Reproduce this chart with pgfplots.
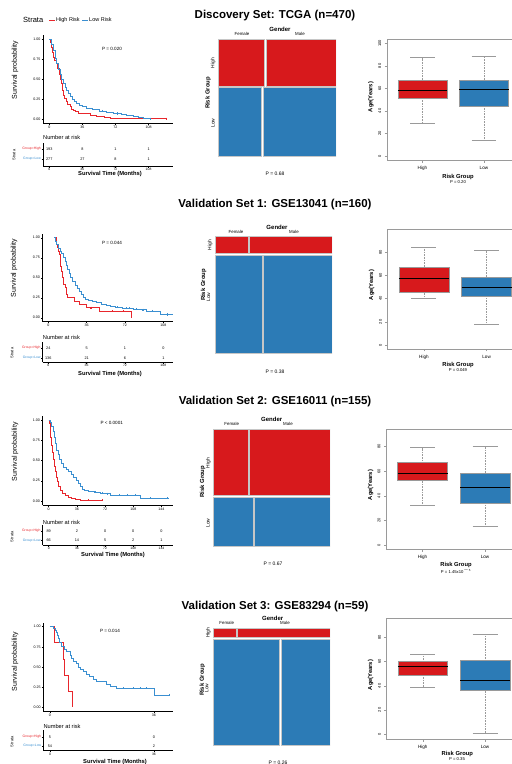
\documentclass[border=0pt]{standalone}
\usepackage{pgfplots}
\pgfplotsset{compat=1.18}
\usepackage{fontspec}
\setmainfont{Liberation Sans}
\definecolor{kmred}{HTML}{E8262C}
\definecolor{kmblue}{HTML}{3A8FD1}
\definecolor{mred}{HTML}{D7191C}
\definecolor{mblue}{HTML}{2C7BB6}
\definecolor{frm}{HTML}{9A9A9A}
\newcommand{\fs}[1]{\fontsize{#1}{#1}\selectfont}
\pgfplotsset{
  every axis/.append style={/pgf/number format/assume math mode=true},
  km/.style={scale only axis, axis lines*=left, axis line style={-,black,line width=0.45pt},
    tick align=outside, major tick length=1.5pt, tick style={black,line width=0.4pt},
    ticklabel style={font=\fs{3.6}, inner sep=1pt}, ymin=-0.05, ymax=1.05,
    ytick={0,0.25,0.5,0.75,1}, yticklabels={0.00,0.25,0.50,0.75,1.00}},
  rt/.style={scale only axis, axis lines*=left, axis line style={-,black,line width=0.45pt},
    tick align=outside, major tick length=1.5pt, tick style={black,line width=0.4pt},
    ticklabel style={font=\fs{3.4}, inner sep=0.5pt}, ytick={1,2},
    yticklabels={\textcolor{kmblue}{Group=Low},\textcolor{kmred}{Group=High}}},
  kml/.style={const plot, line width=0.7pt},
  cen/.style={only marks, mark=+, mark size=1.1pt, line width=0.4pt},
  rtn/.style={draw=none, mark=none, nodes near coords, point meta=explicit symbolic,
    nodes near coords style={font=\fs{3.8}, anchor=center, inner sep=0pt, text=black}},
  mos/.style={scale only axis, hide axis, xmin=0,xmax=1,ymin=0,ymax=1},
  cR/.style={fill=mred, draw=gray!45, line width=0.4pt},
  cB/.style={fill=mblue, draw=gray!45, line width=0.4pt},
  bx/.style={scale only axis, xmin=0.42, xmax=2.58, xtick={1,2}, xticklabels={High,Low},
    axis line style={frm,line width=0.5pt}, tick align=outside, xtick pos=bottom, ytick pos=left,
    major tick length=2.2pt, tick style={frm, line width=0.4pt},
    yticklabel style={rotate=90, anchor=south, font=\fs{4}},
    xticklabel style={font=\fs{4.6}}},
}
\newcommand{\bxH}[6]{%
  \addplot[frm, dash pattern=on 0.8pt off 0.8pt, line width=0.4pt] coordinates {(1,#5)(1,#6)};
  \addplot[frm, dash pattern=on 0.8pt off 0.8pt, line width=0.4pt] coordinates {(1,#2)(1,#3)};
  \addplot[frm, line width=0.5pt] coordinates {(0.8,#6)(1.2,#6)};
  \addplot[frm, line width=0.5pt] coordinates {(0.8,#2)(1.2,#2)};
  \addplot[fill=#1, draw=frm, line width=0.5pt] coordinates {(0.6,#3)(1.4,#3)(1.4,#5)(0.6,#5)} -- cycle;
  \addplot[black, line width=1pt] coordinates {(0.6,#4)(1.4,#4)};
}
\newcommand{\bxL}[6]{%
  \addplot[frm, dash pattern=on 0.8pt off 0.8pt, line width=0.4pt] coordinates {(2,#5)(2,#6)};
  \addplot[frm, dash pattern=on 0.8pt off 0.8pt, line width=0.4pt] coordinates {(2,#2)(2,#3)};
  \addplot[frm, line width=0.5pt] coordinates {(1.8,#6)(2.2,#6)};
  \addplot[frm, line width=0.5pt] coordinates {(1.8,#2)(2.2,#2)};
  \addplot[fill=#1, draw=frm, line width=0.5pt] coordinates {(1.6,#3)(2.4,#3)(2.4,#5)(1.6,#5)} -- cycle;
  \addplot[black, line width=1pt] coordinates {(1.6,#4)(2.4,#4)};
}
\begin{document}
\begin{tikzpicture}
\path[use as bounding box] (0pt,0pt) rectangle (512pt,-764pt);

% ================= ROW 1 =================
\begin{axis}[km, at={(43pt,-123pt)}, anchor=south west, width=130pt, height=87.7pt,
  xmin=-6.86, xmax=134.6, xtick={0,36,72,108}]
\addplot[kml, kmred] coordinates {(0,1)(1.5,0.96)(2.6,0.90)(3.5,0.84)(4.4,0.77)(6,0.74)(7.5,0.70)(9,0.64)(10.5,0.56)(11.6,0.50)(13,0.45)(14.2,0.36)(15.2,0.30)(16.5,0.26)(18.2,0.22)(20,0.19)(22.5,0.155)(24.5,0.125)(26.1,0.11)(28.5,0.09)(31.6,0.065)(45,0.05)(51.6,0.03)(60,0.02)(66,0.01)(90,0.005)(127,0.005)};
\addplot[kml, kmblue] coordinates {(0,1)(2,0.94)(4,0.86)(6.2,0.76)(8,0.70)(10,0.62)(11.6,0.56)(13.5,0.50)(15,0.45)(17,0.40)(19,0.36)(20.5,0.32)(22.5,0.28)(25,0.25)(27.5,0.22)(29.8,0.20)(33,0.17)(36,0.155)(40.7,0.135)(47,0.12)(55,0.10)(62,0.085)(69.7,0.07)(78,0.055)(84,0.045)(91.4,0.03)(97,0.02)(102,0.005)(109.6,0.005)};
\addplot[cen, kmred] coordinates {(127,0.005)};
\addplot[cen, kmblue] coordinates {(58,0.10)(74,0.07)(109.6,0.005)};
\end{axis}
\begin{axis}[rt, at={(43pt,-166pt)}, anchor=south west, width=130pt, height=23pt,
  xmin=-6.86, xmax=134.6, ymin=0.3, ymax=2.6, xtick={0,36,72,108}]
\addplot[rtn] coordinates {(0,2)[193] (36,2)[8] (72,2)[1] (108,2)[1] (0,1)[277] (36,1)[27] (72,1)[8] (108,1)[1]};
\end{axis}
\begin{axis}[mos, at={(218pt,-156pt)}, anchor=south west, width=118pt, height=117pt]
\addplot[cR] coordinates {(0,0.596)(0.394,0.596)(0.394,1)(0,1)} -- cycle;
\addplot[cR] coordinates {(0.406,0.596)(1,0.596)(1,1)(0.406,1)} -- cycle;
\addplot[cB] coordinates {(0,0)(0.367,0)(0.367,0.584)(0,0.584)} -- cycle;
\addplot[cB] coordinates {(0.379,0)(1,0)(1,0.584)(0.379,0.584)} -- cycle;
\end{axis}
\begin{axis}[bx, at={(386.8pt,-160.5pt)}, anchor=south west, width=132.8pt, height=121.7pt,
  ymin=-4, ymax=104, ytick={0,20,40,60,80,100}]
\bxH{mred}{29.5}{51.2}{57.7}{67.2}{87.2}
\bxL{mblue}{13.6}{44.4}{58.6}{67.2}{88.1}
\end{axis}

% ================= ROW 2 =================
\begin{axis}[km, at={(42.7pt,-321.7pt)}, anchor=south west, width=130.3pt, height=88pt,
  xmin=-5.26, xmax=117.1, xtick={0,36,72,108}]
\addplot[kml, kmred] coordinates {(7.2,1)(8,0.92)(8.8,0.875)(9.8,0.83)(10.4,0.79)(11,0.71)(11.6,0.64)(12.5,0.58)(13.2,0.50)(14.5,0.42)(15.7,0.375)(17,0.29)(18.2,0.25)(24.1,0.21)(29.1,0.165)(36,0.125)(47.9,0.083)(78.3,0)};
\addplot[kml, kmblue] coordinates {(5.7,1)(7,0.96)(8,0.92)(9.4,0.87)(11,0.83)(12.6,0.80)(14,0.75)(15.7,0.70)(17,0.65)(18.2,0.60)(19.5,0.55)(21,0.50)(23,0.45)(25,0.41)(27,0.37)(28.8,0.33)(31,0.29)(32.9,0.26)(35,0.235)(37.6,0.22)(41,0.20)(45.4,0.19)(50,0.17)(54.8,0.16)(58,0.145)(62.6,0.13)(70,0.12)(79.8,0.11)(86,0.10)(92.4,0.085)(104.9,0.04)(117,0.04)};
\addplot[cen, kmred] coordinates {(40,0.125)(60,0.083)(70,0.083)};
\addplot[cen, kmblue] coordinates {(65,0.13)(73,0.12)(76,0.12)(83,0.11)(89,0.10)(98,0.085)(112,0.04)};
\end{axis}
\begin{axis}[rt, at={(42.7pt,-362pt)}, anchor=south west, width=130.3pt, height=20.3pt,
  xmin=-5.26, xmax=117.1, ymin=0.6, ymax=2.63, xtick={0,36,72,108}]
\addplot[rtn] coordinates {(0,2)[24] (36,2)[5] (72,2)[1] (108,2)[0] (0,1)[136] (36,1)[21] (72,1)[6] (108,1)[1]};
\end{axis}
\begin{axis}[mos, at={(215pt,-353pt)}, anchor=south west, width=117pt, height=117pt]
\addplot[cR] coordinates {(0,0.852)(0.284,0.852)(0.284,1)(0,1)} -- cycle;
\addplot[cR] coordinates {(0.296,0.852)(1,0.852)(1,1)(0.296,1)} -- cycle;
\addplot[cB] coordinates {(0,0)(0.404,0)(0.404,0.840)(0,0.840)} -- cycle;
\addplot[cB] coordinates {(0.416,0)(1,0)(1,0.840)(0.416,0.840)} -- cycle;
\end{axis}
\begin{axis}[bx, at={(387.6pt,-349.1pt)}, anchor=south west, width=135.4pt, height=120.1pt,
  ymin=-3.5, ymax=100, ytick={0,20,40,60,80}]
\bxH{mred}{40.2}{45.9}{57.5}{67}{84.7}
\bxL{mblue}{17.8}{42}{49.4}{58.4}{81.9}
\end{axis}

% ================= ROW 3 =================
\begin{axis}[km, at={(42.7pt,-505pt)}, anchor=south west, width=130.3pt, height=89.1pt,
  xmin=-7.66, xmax=158.7, xtick={0,36,72,108,144}]
\addplot[kml, kmred] coordinates {(0,1)(0.8,0.96)(1.7,0.88)(2.7,0.78)(3.8,0.69)(4.8,0.60)(5.9,0.51)(7,0.43)(8.1,0.36)(9.5,0.29)(11,0.24)(12.7,0.18)(14.5,0.136)(17,0.10)(21,0.074)(25,0.05)(29.5,0.033)(34,0.02)(40,0.012)(68,0.012)};
\addplot[kml, kmblue] coordinates {(0,1)(1.5,0.97)(3.8,0.92)(5.3,0.86)(6.8,0.79)(8.5,0.71)(10.3,0.63)(12,0.57)(13.6,0.51)(16,0.46)(18.8,0.42)(22,0.39)(25.2,0.36)(28.5,0.33)(31.6,0.29)(35,0.25)(38,0.22)(41,0.18)(42.4,0.145)(46,0.135)(50.9,0.123)(58,0.11)(66,0.10)(72,0.09)(78.8,0.074)(117.4,0.033)(151.7,0.033)};
\addplot[cen, kmred] coordinates {(50,0.012)(68,0.012)};
\addplot[cen, kmblue] coordinates {(60,0.11)(68,0.10)(75,0.09)(90,0.074)(100,0.074)(110,0.074)(130,0.033)(151.7,0.033)};
\end{axis}
\begin{axis}[rt, at={(42.7pt,-545pt)}, anchor=south west, width=130.3pt, height=20pt,
  xmin=-7.66, xmax=158.7, ymin=0.5, ymax=2.6, xtick={0,36,72,108,144}]
\addplot[rtn] coordinates {(0,2)[89] (36,2)[2] (72,2)[0] (108,2)[0] (144,2)[0] (0,1)[66] (36,1)[14] (72,1)[5] (108,1)[2] (144,1)[1]};
\end{axis}
\begin{axis}[mos, at={(212.7pt,-546pt)}, anchor=south west, width=117.3pt, height=117pt]
\addplot[cR] coordinates {(0,0.433)(0.301,0.433)(0.301,1)(0,1)} -- cycle;
\addplot[cR] coordinates {(0.313,0.433)(1,0.433)(1,1)(0.313,1)} -- cycle;
\addplot[cB] coordinates {(0,0)(0.346,0)(0.346,0.421)(0,0.421)} -- cycle;
\addplot[cB] coordinates {(0.358,0)(1,0)(1,0.421)(0.358,0.421)} -- cycle;
\end{axis}
\begin{axis}[bx, at={(386.25pt,-549.3pt)}, anchor=south west, width=135pt, height=120.3pt,
  ymin=-3.5, ymax=94.3, ytick={0,20,40,60,80}]
\bxH{mred}{32}{52.3}{58.3}{67.2}{79.1}
\bxL{mblue}{14.9}{33.9}{46.6}{58.3}{80.5}
\end{axis}

% ================= ROW 4 =================
\begin{axis}[km, at={(43.3pt,-711.3pt)}, anchor=south west, width=129.7pt, height=88.7pt,
  xmin=-2.32, xmax=42.6, xtick={0,36}]
\addplot[kml, kmred] coordinates {(0,1)(1.5,0.8)(4.6,0.6)(4.9,0.4)(6.3,0.2)(7.8,0)};
\addplot[kml, kmblue] coordinates {(0,1)(1.2,0.98)(1.7,0.96)(2.1,0.93)(2.5,0.89)(2.9,0.85)(3.4,0.80)(4,0.76)(4.8,0.72)(5.8,0.69)(6.9,0.65)(7.5,0.61)(8.1,0.57)(9,0.54)(9.8,0.50)(10.6,0.47)(11.5,0.44)(12.6,0.41)(13.8,0.38)(15,0.35)(16.2,0.32)(19.6,0.28)(21,0.26)(23.1,0.235)(36,0.153)(41.3,0.153)};
\addplot[cen, kmblue] coordinates {(25.4,0.235)(28.9,0.235)(31.1,0.235)(33.4,0.235)(41.3,0.153)};
\end{axis}
\begin{axis}[rt, at={(43.3pt,-750.7pt)}, anchor=south west, width=129.7pt, height=20.5pt,
  xmin=-2.32, xmax=42.6, ymin=0.5, ymax=2.7, xtick={0,36}]
\addplot[rtn] coordinates {(0,2)[5] (36,2)[0] (0,1)[54] (36,1)[2]};
\end{axis}
\begin{axis}[mos, at={(212.7pt,-745pt)}, anchor=south west, width=117.3pt, height=117.3pt]
\addplot[cR] coordinates {(0,0.916)(0.199,0.916)(0.199,1)(0,1)} -- cycle;
\addplot[cR] coordinates {(0.211,0.916)(1,0.916)(1,1)(0.211,1)} -- cycle;
\addplot[cB] coordinates {(0,0)(0.568,0)(0.568,0.904)(0,0.904)} -- cycle;
\addplot[cB] coordinates {(0.580,0)(1,0)(1,0.904)(0.580,0.904)} -- cycle;
\end{axis}
\begin{axis}[bx, at={(386.6pt,-739.3pt)}, anchor=south west, width=134.6pt, height=121pt,
  ymin=-4.4, ymax=96, ytick={0,20,40,60,80}]
\bxH{mred}{38.8}{49}{56.4}{60}{66.4}
\bxL{mblue}{0.6}{35.9}{44.8}{60.8}{82.7}
\end{axis}

% ================= annotations =================
\begin{scope}[x=1pt,y=1pt]
\node[anchor=west, font=\fs{7.5}, inner sep=0] at (23,-20) {Strata};
\draw[kmred, line width=0.8pt] (49,-20) -- (55,-20);
\node[anchor=west, font=\fs{5.5}, inner sep=0] at (56,-20) {High Risk};
\draw[kmblue, line width=0.8pt] (82,-20) -- (88,-20);
\node[anchor=west, font=\fs{5.5}, inner sep=0] at (89,-20) {Low Risk};
\node[font=\bfseries\fs{11.5}] at (275,-16) {Discovery Set: TCGA (n=470)};
\node[font=\bfseries\fs{11.5}] at (275,-205) {Validation Set 1: GSE13041 (n=160)};
\node[font=\bfseries\fs{11.5}] at (275,-402) {Validation Set 2: GSE16011 (n=155)};
\node[font=\bfseries\fs{11.5}] at (275,-607) {Validation Set 3: GSE83294 (n=59)};
% row 1
\node[rotate=90, font=\fs{7}] at (15,-70) {Survival probability};
\node[font=\fs{4.6}] at (112,-49) {P = 0.020};
\node[anchor=west, font=\fs{5.7}, inner sep=0] at (43,-137) {Number at risk};
\node[font=\bfseries\fs{5.8}] at (110,-174) {Survival Time (Months)};
\node[rotate=90, font=\fs{4}] at (14,-155) {Strata};
\node[font=\bfseries\fs{6}] at (280,-29) {Gender};
\node[font=\fs{4.4}] at (242,-34) {Female};
\node[font=\fs{4.4}] at (300,-34) {Male};
\node[rotate=90, font=\fs{4.9}] at (213,-63) {High};
\node[rotate=90, font=\fs{4.9}] at (213,-123) {Low};
\node[rotate=90, font=\bfseries\fs{5.9}] at (208,-93) {Risk Group};
\node[font=\fs{5}] at (275,-174) {P = 0.68};
\node[rotate=90, font=\bfseries\fs{5.8}] at (371,-97) {Age(Years)};
\node[font=\bfseries\fs{5.8}] at (458,-177) {Risk Group};
\node[font=\fs{4.2}] at (458,-182) {P = 0.20};
% row 2
\node[rotate=90, font=\fs{7}] at (14,-268) {Survival probability};
\node[font=\fs{4.6}] at (112,-243) {P = 0.044};
\node[anchor=west, font=\fs{5.7}, inner sep=0] at (42.7,-337) {Number at risk};
\node[font=\bfseries\fs{5.8}] at (110,-374) {Survival Time (Months)};
\node[rotate=90, font=\fs{4}] at (12,-353) {Strata};
\node[font=\bfseries\fs{6}] at (277,-227) {Gender};
\node[font=\fs{4.4}] at (236,-232) {Female};
\node[font=\fs{4.4}] at (294,-232) {Male};
\node[rotate=90, font=\fs{4.9}] at (210,-245) {High};
\node[rotate=90, font=\fs{4.9}] at (208.5,-297) {Low};
\node[rotate=90, font=\bfseries\fs{5.9}] at (203.5,-285) {Risk Group};
\node[font=\fs{5}] at (275,-372) {P = 0.38};
\node[rotate=90, font=\bfseries\fs{5.8}] at (371.7,-285) {Age(Years)};
\node[font=\bfseries\fs{5.8}] at (458,-365) {Risk Group};
\node[font=\fs{4.2}] at (458,-370) {P = 0.049};
% row 3
\node[rotate=90, font=\fs{7}] at (15,-451.7) {Survival probability};
\node[font=\fs{4.6}] at (111.7,-423.3) {P < 0.0001};
\node[anchor=west, font=\fs{5.7}, inner sep=0] at (42.7,-522.7) {Number at risk};
\node[font=\bfseries\fs{5.8}] at (113,-555) {Survival Time (Months)};
\node[rotate=90, font=\fs{4}] at (12,-536.7) {Strata};
\node[font=\bfseries\fs{6}] at (271.7,-419.3) {Gender};
\node[font=\fs{4.4}] at (231.7,-424.3) {Female};
\node[font=\fs{4.4}] at (288,-424.3) {Male};
\node[rotate=90, font=\fs{4.9}] at (208.3,-463.3) {High};
\node[rotate=90, font=\fs{4.9}] at (208,-523) {Low};
\node[rotate=90, font=\bfseries\fs{5.9}] at (202.5,-481.7) {Risk Group};
\node[font=\fs{5}] at (273,-564) {P = 0.67};
\node[rotate=90, font=\bfseries\fs{5.8}] at (370.7,-485) {Age(Years)};
\node[font=\bfseries\fs{5.8}] at (456,-565) {Risk Group};
\node[font=\fs{4.2}] at (456,-570.7) {P = 1.45x10\textsuperscript{$-$5}};
% row 4
\node[rotate=90, font=\fs{7}] at (15,-661.7) {Survival probability};
\node[font=\fs{4.6}] at (110,-631) {P = 0.014};
\node[anchor=west, font=\fs{5.7}, inner sep=0] at (43.3,-726.7) {Number at risk};
\node[font=\bfseries\fs{5.8}] at (115,-761.5) {Survival Time (Months)};
\node[rotate=90, font=\fs{4}] at (12,-741.7) {Strata};
\node[font=\bfseries\fs{6}] at (272.7,-618.3) {Gender};
\node[font=\fs{4.4}] at (226.7,-623.3) {Female};
\node[font=\fs{4.4}] at (285,-623.3) {Male};
\node[rotate=90, font=\fs{4.9}] at (208.3,-632.7) {High};
\node[rotate=90, font=\fs{4.9}] at (206.7,-688) {Low};
\node[rotate=90, font=\bfseries\fs{5.9}] at (202.3,-680) {Risk Group};
\node[font=\fs{5}] at (278,-762.7) {P = 0.26};
\node[rotate=90, font=\bfseries\fs{5.8}] at (370.7,-675) {Age(Years)};
\node[font=\bfseries\fs{5.8}] at (457.3,-754.3) {Risk Group};
\node[font=\fs{4.2}] at (457,-759) {P = 0.35};
\end{scope}
\end{tikzpicture}
\end{document}
